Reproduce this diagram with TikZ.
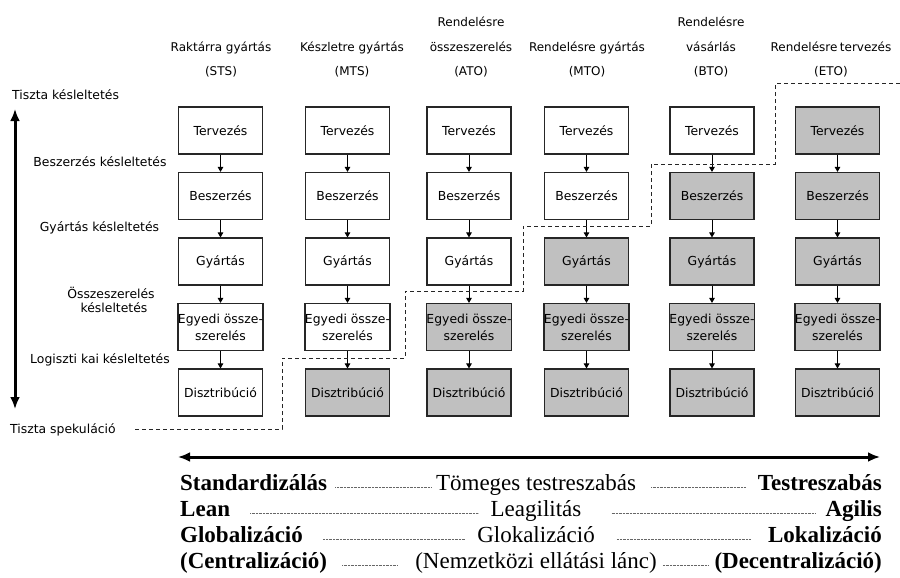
\documentclass[tikz,border=0pt]{standalone}
\usepackage{fontspec}
\setmainfont{Liberation Serif}
\newfontfamily\dejavu{DejaVu Sans}
\usetikzlibrary{arrows.meta}
\definecolor{shade}{HTML}{C0C0C0}
\definecolor{edge}{HTML}{262626}

\begin{document}
\begin{tikzpicture}[x=1pt,y=-1pt,
  stage/.style={draw=edge, line width=1.1pt, fill=white, minimum width=84pt,
    minimum height=47pt, inner sep=0pt, align=center,
    font=\dejavu\fontsize{12.4}{17}\selectfont},
  flow/.style={-{Triangle[length=5pt,width=5.5pt]}, line width=1pt},
  hdr/.style={font=\dejavu\fontsize{12}{14}\selectfont, anchor=base, inner sep=0pt},
  lbl/.style={font=\dejavu\fontsize{12.4}{14}\selectfont, anchor=base, inner sep=0pt},
  boundary/.style={line width=1pt, black!85, dash pattern=on 4pt off 3pt},
  bigarrow/.style={line width=3pt, {Latex[length=12pt,width=10pt]}-{Latex[length=12pt,width=10pt]}},
  strong/.style={font=\bfseries\fontsize{23}{26}\selectfont, inner sep=0pt},
  plain/.style={font=\fontsize{23}{26}\selectfont, inner sep=0pt},
  dotline/.style={line width=0.7pt, black!60, dash pattern=on 0.7pt off 0.7pt},
]
\useasboundingbox (0,0) rectangle (900,578);

% column headers
\node[hdr] (h1b) at (221,51.5) {Raktárra gyártás};
\node[hdr] (h1c) at (221,76) {(STS)};
\node[hdr] (h2b) at (352,51.5) {Készletre gyártás};
\node[hdr] (h2c) at (352,76) {(MTS)};
\node[hdr] (h3a) at (471,27) {Rendelésre};
\node[hdr] (h3b) at (471,51.5) {összeszerelés};
\node[hdr] (h3c) at (471,76) {(ATO)};
\node[hdr] (h4b) at (587,51.5) {Rendelésre gyártás};
\node[hdr] (h4c) at (587,76) {(MTO)};
\node[hdr] (h5a) at (711,27) {Rendelésre};
\node[hdr] (h5b) at (711,51.5) {vásárlás};
\node[hdr] (h5c) at (711,76) {(BTO)};
\node[hdr] (h6b) at (831,51.5) {Rendelésre\hspace{2.5pt}tervezés};
\node[hdr] (h6c) at (831,76) {(ETO)};

% process stages: white before the decoupling point, grey after it
\def\egy{Egyedi össze-\\szerelés}
\foreach \c/\x/\s in {1/220.5/6, 2/347.5/5, 3/469/4, 4/586.5/3, 5/712/2, 6/837.5/1} {
  \foreach \r/\y/\t in {1/130.5/Tervezés, 2/196/Beszerzés, 3/261.5/Gyártás,
                        4/327/\egy, 5/392.5/Disztribúció} {
    \ifnum\r<\s \def\fc{white}\else\def\fc{shade}\fi
    \node[stage, fill=\fc] (c\c r\r) at (\x,\y) {\t};
  }
  \foreach \r [evaluate=\r as \n using int(\r+1)] in {1,2,3,4}
    \draw[flow] (c\c r\r) -- (c\c r\n);
}

% delay labels on the left
\node[lbl, anchor=base west] (tk) at (12,99.5) {Tiszta késleltetés};
\node[lbl] (bk) at (100,166) {Beszerzés késleltetés};
\node[lbl] (gk) at (99.5,231.5) {Gyártás késleltetés};
\node[lbl] (ok1) at (111,298) {Összeszerelés};
\node[lbl] (ok2) at (114,312.5) {késleltetés};
\node[lbl] (lk) at (100,363.5) {Logiszti kai késleltetés};
\node[lbl, anchor=base west] (ts) at (10,433.5) {Tiszta spekuláció};

\draw[bigarrow] (15,109) -- (15,409);

% decoupling point boundary
\draw[boundary] (135,429) -| (282,358) -| (405,291) -| (523,226)
  -| (651,164) -| (775,84) -- (900,84);

% strategy spectrum
\draw[bigarrow] (178,457) -- (880,457);

\node[strong, anchor=base west] (l1) at (180,490) {Standardizálás};
\node[plain,  anchor=base]      (m1) at (536,490) {Tömeges testreszabás};
\node[strong, anchor=base east] (r1) at (882,490) {Testreszabás};
\node[strong, anchor=base west] (l2) at (180,516) {Lean};
\node[plain,  anchor=base]      (m2) at (536,516) {Leagilitás};
\node[strong, anchor=base east] (r2) at (882,516) {Agilis};
\node[strong, anchor=base west] (l3) at (180,542) {Globalizáció};
\node[plain,  anchor=base]      (m3) at (536,542) {Glokalizáció};
\node[strong, anchor=base east] (r3) at (882,542) {Lokalizáció};
\node[strong, anchor=base west] (l4) at (180,568) {(Centralizáció)};
\node[plain,  anchor=base]      (m4) at (536,568) {(Nemzetközi ellátási lánc)};
\node[strong, anchor=base east] (r4) at (882,568) {(Decentralizáció)};

\draw[dotline] ([xshift=8pt]l1.mid east) -- ([xshift=-4pt]m1.mid west);
\draw[dotline] ([xshift=15pt]m1.mid east) -- ([xshift=-12pt]r1.mid west);
\draw[dotline] ([xshift=20pt]l2.mid east) -- ([xshift=-12pt]m2.mid west);
\draw[dotline] ([xshift=30pt]m2.mid east) -- ([xshift=-10pt]r2.mid west);
\draw[dotline] ([xshift=20pt]l3.mid east) -- ([xshift=-12pt]m3.mid west);
\draw[dotline] ([xshift=22pt]m3.mid east) -- ([xshift=-17pt]r3.mid west);
\draw[dotline] ([xshift=15pt]l4.mid east) -- ([xshift=-18pt]m4.mid west);
\draw[dotline] ([xshift=6pt]m4.mid east) -- ([xshift=-6pt]r4.mid west);
\end{tikzpicture}
\end{document}
